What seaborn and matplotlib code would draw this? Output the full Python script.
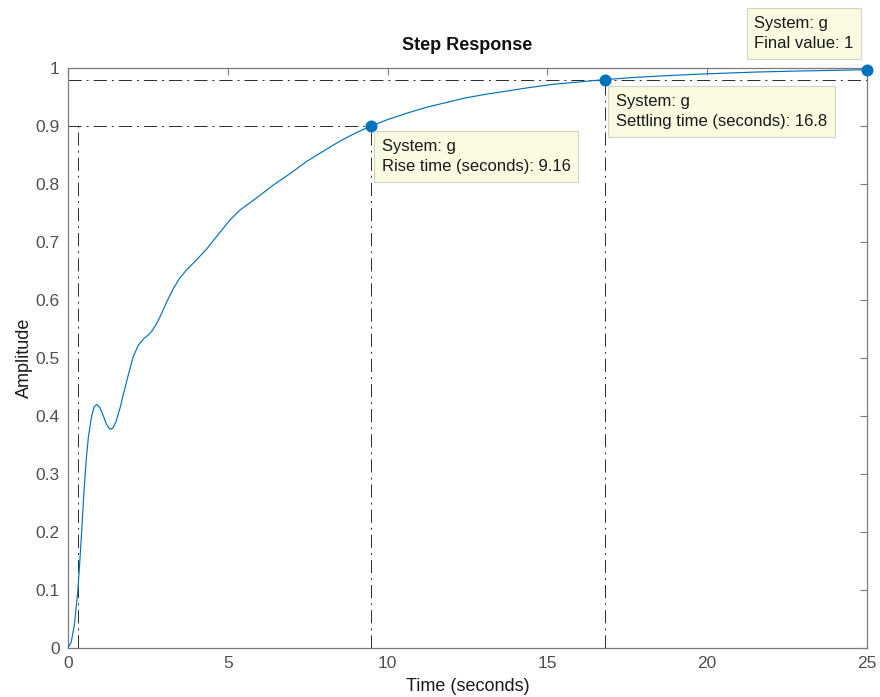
import matplotlib
matplotlib.use("Agg")
import matplotlib.pyplot as plt
import seaborn as sns
import pandas as pd

# Step response of system g (time in seconds, amplitude)
time_s = [0.0, 0.1, 0.2, 0.31, 0.37, 0.43, 0.5, 0.57, 0.64, 0.74, 0.82, 0.9,
          1.0, 1.1, 1.2, 1.31, 1.4, 1.5, 1.63, 1.73, 1.84, 1.95, 2.04, 2.2,
          2.36, 2.5, 2.62, 2.78, 2.93, 3.1, 3.3, 3.5, 3.71, 4.0, 4.34, 4.7,
          5.07, 5.38, 5.9, 6.42, 6.95, 7.47, 8.0, 8.51, 9.0, 9.48, 10.0, 10.6,
          11.2, 11.8, 12.4, 13.0, 13.7, 14.4, 15.2, 16.0, 16.8, 17.8, 18.8,
          20.0, 21.5, 23.0, 25.0]
amplitude = [0.0, 0.01, 0.04, 0.1, 0.15, 0.203, 0.27, 0.325, 0.365, 0.400,
             0.416, 0.420, 0.414, 0.401, 0.386, 0.377, 0.379, 0.390, 0.414,
             0.437, 0.461, 0.484, 0.502, 0.522, 0.533, 0.539, 0.546, 0.560,
             0.577, 0.598, 0.620, 0.638, 0.652, 0.668, 0.688, 0.713, 0.738,
             0.755, 0.776, 0.798, 0.818, 0.839, 0.857, 0.874, 0.888, 0.900,
             0.911, 0.922, 0.932, 0.940, 0.948, 0.954, 0.960, 0.966, 0.972,
             0.976, 0.980, 0.984, 0.987, 0.990, 0.993, 0.995, 0.997]

# Response characteristics
t10 = 0.32
rise_time = 9.16
t90 = t10 + rise_time
settling_time = 16.8
settling_level = 0.98
final_value = 1
t_end = 25.0

x_ticks = [0, 5, 10, 15, 20, 25]
y_ticks = [0, 0.1, 0.2, 0.3, 0.4, 0.5, 0.6, 0.7, 0.8, 0.9, 1.0]
y_tick_labels = ["0", "0.1", "0.2", "0.3", "0.4", "0.5", "0.6", "0.7", "0.8", "0.9", "1"]

sns.set_style("white")
plt.rcParams["font.family"] = ["Liberation Sans", "DejaVu Sans"]
plt.rcParams["lines.scale_dashes"] = False

blue = "#0072BD"
grey_axis = "#7a7a7a"
grey_text = "#505050"
dashdot = (0, (9.5, 3.6, 1.4, 3.6))

fig = plt.figure(figsize=(8.8, 6.97), dpi=100)
ax = fig.add_axes([68 / 880, 1 - 648 / 697, (867 - 68) / 880, (648 - 68) / 697])

df = pd.DataFrame({"t": time_s, "y": amplitude})
sns.lineplot(data=df, x="t", y="y", ax=ax, color=blue, linewidth=0.85,
             estimator=None, sort=False, zorder=3)

# Characteristic guide lines
lc = "#2b2b2b"
lw = 0.7
ax.plot([0, t90], [0.9, 0.9], color=lc, lw=lw, linestyle=dashdot, zorder=2)
ax.plot([0, t_end], [settling_level, settling_level], color=lc, lw=lw,
        linestyle=dashdot, zorder=2)
ax.plot([t10, t10], [0, 0.9], color=lc, lw=lw, linestyle=dashdot, zorder=2)
ax.plot([t90, t90], [0, 0.9], color=lc, lw=lw, linestyle=dashdot, zorder=2)
ax.plot([settling_time, settling_time], [0, settling_level], color=lc, lw=lw,
        linestyle=dashdot, zorder=2)

# Characteristic markers
pts = pd.DataFrame({"t": [t90, settling_time, t_end],
                    "y": [0.9, settling_level, 0.997]})
sns.scatterplot(data=pts, x="t", y="y", ax=ax, color=blue, s=75,
                edgecolor=blue, linewidth=0, zorder=5, clip_on=False)

box = dict(boxstyle="square,pad=0.45", facecolor="#fbfbe2",
           edgecolor="#d4d4c4", linewidth=0.8)
tip_kw = dict(textcoords="offset pixels", ha="left", va="top", fontsize=12,
              color="#1a1a1a", bbox=box, linespacing=1.45, zorder=6,
              annotation_clip=False)
ax.annotate(f"System: g\nRise time (seconds): {rise_time:.2f}",
            xy=(t90, 0.9), xytext=(11, -13), **tip_kw)
ax.annotate(f"System: g\nSettling time (seconds): {settling_time:.1f}",
            xy=(settling_time, settling_level), xytext=(11, -14), **tip_kw)
ax.annotate(f"System: g\nFinal value: {final_value}",
            xy=(t_end, 0.997), xytext=(-113, 54), **tip_kw)

ax.set_xlim(0, 25)
ax.set_ylim(0, 1)
ax.set_xticks(x_ticks)
ax.set_xticklabels([str(v) for v in x_ticks])
ax.set_yticks(y_ticks)
ax.set_yticklabels(y_tick_labels)
ax.tick_params(direction="in", length=5, width=0.8, color=grey_axis,
               labelcolor=grey_text, labelsize=12.5, top=True, right=True,
               pad=6)
for sp in ax.spines.values():
    sp.set_color(grey_axis)
    sp.set_linewidth(0.9)

ax.set_xlabel("Time (seconds)", fontsize=13, color="#1a1a1a", labelpad=5)
ax.set_ylabel("Amplitude", fontsize=13, color="#1a1a1a", labelpad=2)
ax.set_title("Step Response", fontsize=13, fontweight="bold", color="#111111",
             pad=13)

fig.savefig("out.png", dpi=100)
